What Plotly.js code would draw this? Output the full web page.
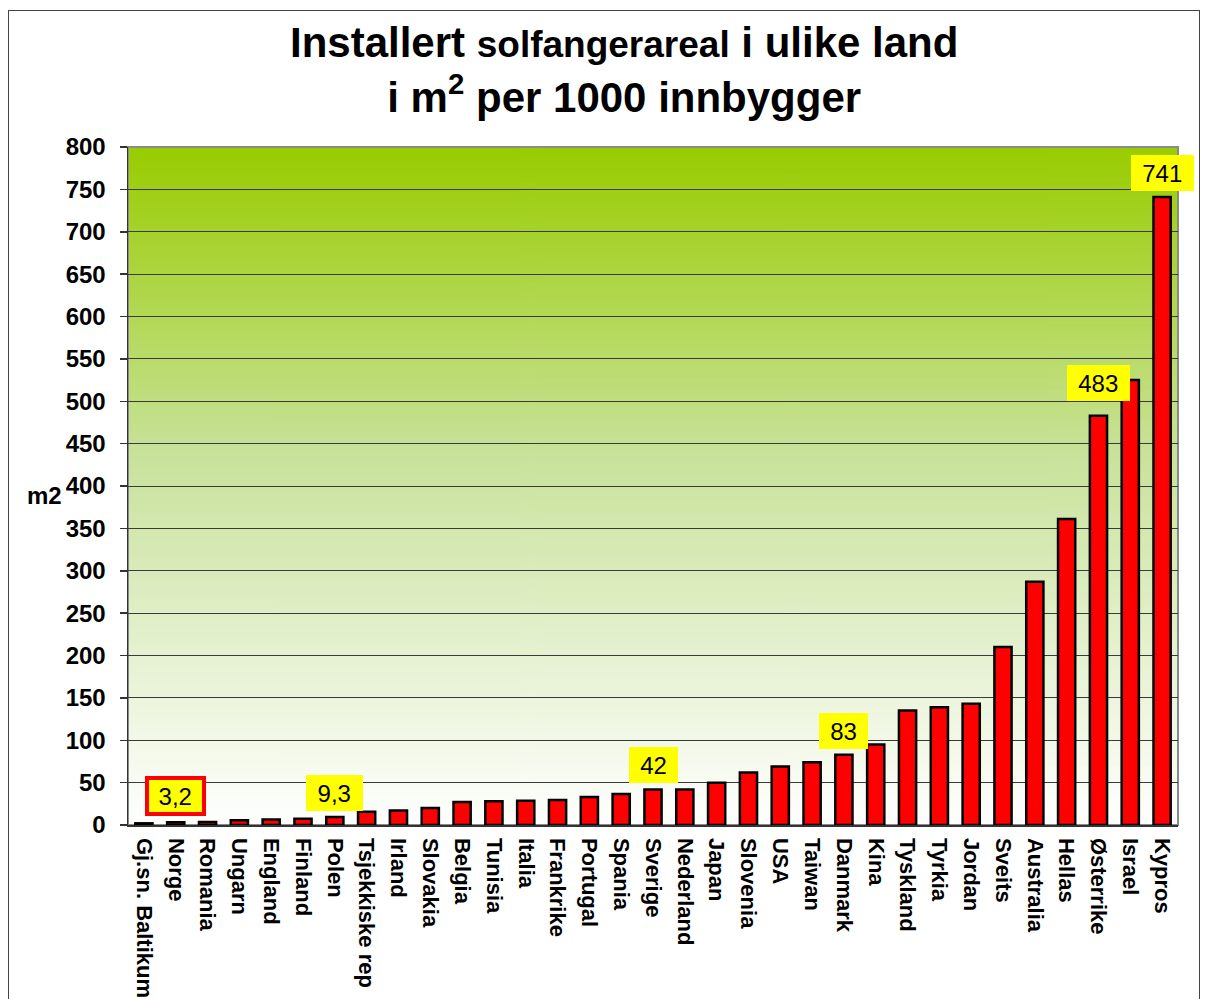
<!DOCTYPE html>
<html>
<head>
<meta charset="utf-8">
<script src="https://cdn.plot.ly/plotly-3.0.1.min.js"></script>
<style>
html,body{margin:0;padding:0;background:#fff;}
#wrap{position:relative;width:1205px;height:999px;overflow:hidden;}
#chart{position:absolute;left:0;top:0;width:1205px;height:999px;}
#frame{position:absolute;left:8px;top:10px;width:1192px;height:1100px;border:1.5px solid #444;pointer-events:none;box-sizing:border-box;}
</style>
</head>
<body>
<div id="wrap"><div id="chart"></div><div id="frame"></div></div>
<script>
const countries = ["Gj.sn. Baltikum","Norge","Romania","Ungarn","England","Finland","Polen","Tsjekkiske rep","Irland","Slovakia","Belgia","Tunisia","Italia","Frankrike","Portugal","Spania","Sverige","Nederland","Japan","Slovenia","USA","Taiwan","Danmark","Kina","Tyskland","Tyrkia","Jordan","Sveits","Australia","Hellas","Østerrike","Israel","Kypros"];
const values = [2,3.2,3.5,5.5,6.5,7.5,9.3,15.5,17,20,27,28,28.5,29.5,33,36.5,42,42,50,62,69,74,83,95,135,139,143,210,287,361,483,525,741];
const labelCountries = ["Norge","Polen","Sverige","Danmark","Østerrike","Kypros"];
const labelTexts = ["3,2","9,3","42","83","483","741"];
const yTicks = [0,50,100,150,200,250,300,350,400,450,500,550,600,650,700,750,800];

// background gradient image
const cv = document.createElement('canvas');
cv.width = 4; cv.height = 512;
const ctx = cv.getContext('2d');
const g = ctx.createLinearGradient(0,0,0,512);
g.addColorStop(0,'#99cc00');
g.addColorStop(0.45,'#c8e29a');
g.addColorStop(1,'#ffffff');
ctx.fillStyle = g; ctx.fillRect(0,0,4,512);
const bgURL = cv.toDataURL('image/png');

const FONT = '"Liberation Sans", Arial, sans-serif';

const labelAnns = labelCountries.map((c,i)=>{
  const v = values[countries.indexOf(c)];
  const isNorge = c === "Norge";
  const txt = labelTexts[i];
  const w = txt.length*13.5 + (txt.indexOf(',')>=0 ? -6 : 0) + 18;
  return {
    x: c, y: v, xref:'x', yref:'y', text: txt, showarrow:false,
    yanchor:'bottom', yshift: c === "Østerrike" ? 15 : 6,
    font:{family:FONT, size:24, color:'#000'},
    bgcolor:'#ffff00',
    bordercolor: isNorge ? '#ff0000' : 'rgba(0,0,0,0)',
    borderwidth: isNorge ? 4 : 0,
    borderpad: isNorge ? 0 : 2,
    width: w, height: 32
  };
});

const data = [{
  type:'bar', x: countries, y: values,
  marker:{color:'#ff0000', line:{color:'#000', width:2.5}},
  hoverinfo:'x+y'
}];

const layout = {
  width:1205, height:999,
  margin:{l:128, r:27, t:147, b:174},
  paper_bgcolor:'rgba(0,0,0,0)',
  plot_bgcolor:'rgba(0,0,0,0)',
  bargap:0.46,
  showlegend:false,
  font:{family:FONT, color:'#000'},
  xaxis:{
    type:'category', range:[-0.5, countries.length-0.5], tickangle:90, ticks:'', showgrid:false,
    tickfont:{family:FONT, size:22, color:'#000', weight:'bold'},
    showline:true, linecolor:'#333', linewidth:1.5,
    ticklabelstandoff:7, automargin:false, fixedrange:true
  },
  yaxis:{
    range:[0,800], tickvals:yTicks, ticktext:yTicks.map(String),
    showgrid:true, gridcolor:'#3a3a3a', gridwidth:1,
    zeroline:false,
    ticks:'outside', ticklen:7, tickcolor:'#333', tickwidth:1.5,
    showline:true, linecolor:'#333', linewidth:1.5,
    tickfont:{family:FONT, size:24, color:'#000', weight:'bold'},
    ticklabelstandoff:9, automargin:false, fixedrange:true
  },
  images:[{source:bgURL, xref:'paper', yref:'paper', x:0, y:1, sizex:1, sizey:1, sizing:'stretch', xanchor:'left', yanchor:'top', layer:'below'}],
  shapes:[{type:'rect', xref:'paper', yref:'paper', x0:0, x1:1, y0:0, y1:1, line:{color:'#8a8a8a', width:2}, layer:'below'}],
  annotations:[
    {xref:'paper', yref:'paper', x:0.4724, y:1.1136, showarrow:false, xanchor:'center', yanchor:'middle', align:'center',
     text:"<b>Installert <span style='font-size:37px'>solfangerareal</span> i ulike land<br>i m<sup>2</sup> per 1000 innbygger</b>",
     font:{family:FONT, size:42, color:'#000'}},
    {xref:'paper', yref:'paper', x:-0.08, y:0.4867, showarrow:false, xanchor:'center', yanchor:'middle',
     text:"<b>m2</b>", font:{family:FONT, size:24, color:'#000'}}
  ].concat(labelAnns)
};

Plotly.newPlot('chart', data, layout, {displayModeBar:false, staticPlot:true});
</script>
</body>
</html>
